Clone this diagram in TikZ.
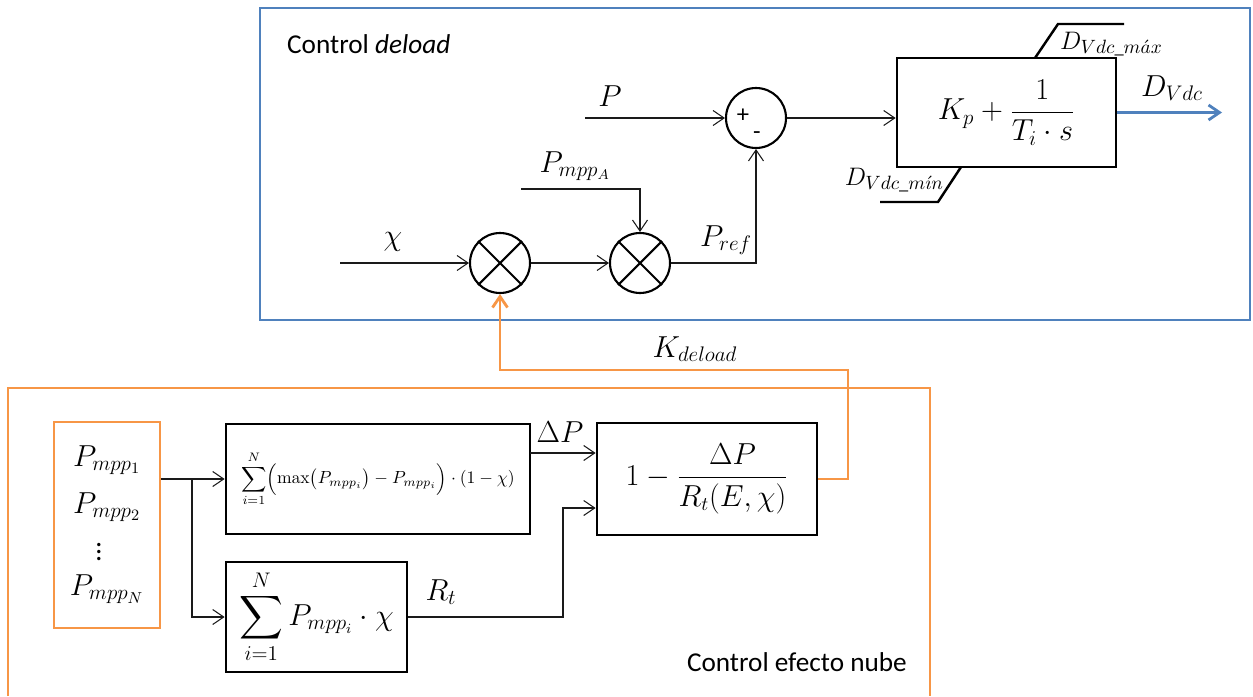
\documentclass[tikz,border=0pt]{standalone}
\usepackage{amsmath}
\usepackage[no-math]{fontspec}
\setmainfont{Carlito}
\usetikzlibrary{arrows.meta,calc}
\definecolor{azul}{HTML}{4F81BD}
\definecolor{naranja}{HTML}{F79646}
\definecolor{negro}{HTML}{1A1A1A}
\tikzset{
  flecha/.style={-{Straight Barb[length=2.2mm,width=3mm]},negro,line width=0.6pt},
  flechac/.style={-{Straight Barb[length=2.2mm,width=3mm]},line width=1.6pt},
  bloque/.style={draw=black,line width=1.6pt,inner sep=2pt,font=\fontsize{16}{18}\selectfont},
  nodo/.style={circle,draw=black,line width=1.2pt,minimum size=1.2cm,inner sep=0pt},
  marco/.style={line width=1.3pt},
  etiq/.style={inner sep=1pt,font=\fontsize{17}{19}\selectfont},
  sat/.style={black,line width=1.4pt},
}
\begin{document}
\begin{tikzpicture}[x=0.02cm,y=-0.02cm]
  \useasboundingbox (0,0) rectangle (1253,696);
  % marcos
  \draw[marco,azul] (260,8) rectangle (1250,320);
  \node[anchor=west,font=\fontsize{15.5}{18}\selectfont] (tdel) at (281,44) {Control \textit{deload}};
  \draw[marco,naranja] (8,696) -- (8,388) -- (930,388) -- (930,696);
  \node[anchor=east,font=\fontsize{15.5}{18}\selectfont] (tnube) at (913,662) {Control efecto nube};

  % control deload
  \node[nodo] (suma) at (756,118) {};
  \node[font=\fontsize{14}{16}\selectfont,inner sep=0pt] (mas) at (743,116) {+};
  \node[font=\fontsize{14}{16}\selectfont,inner sep=0pt] (menos) at (757,136) {-};
  \node[bloque,minimum width=4.38cm,minimum height=2.18cm,font=\fontsize{17}{19}\selectfont] (pi) at (1006.5,112.5) {$\displaystyle K_p+\frac{1}{T_i\cdot s}$};
  \node[nodo] (m1) at (500,263) {};
  \node[nodo] (m2) at (640,263) {};
  \foreach \m in {m1,m2} {
    \draw[line width=1.2pt] (\m.north west) -- (\m.south east);
    \draw[line width=1.2pt] (\m.north east) -- (\m.south west);
  }
  \coordinate (inP) at (585,118);
  \coordinate (inchi) at (340,263);
  \coordinate (inA) at (521,189);
  \coordinate (out) at (1222,113);
  \draw[flecha] (inP) -- (suma);
  \draw[flecha] (suma.east) -- (suma.east -| pi.west);
  \draw[flechac,azul] (pi.east) -- (pi.east -| out);
  \draw[flecha] (inchi) -- (m1);
  \draw[flecha] (m1) -- (m2);
  \draw[flecha] (inA) -| (m2);
  \draw[flecha] (m2) -| (suma);
  \node[etiq] (lP) at (610,96) {$P$};
  \node[etiq] (lchi) at (393,242) {$\chi$};
  \node[etiq] (lA) at (575,166) {$P_{mpp_A}$};
  \node[etiq] (lref) at (726,240) {$P_{ref}$};
  \node[etiq] (lD) at (1172,88) {$D_{Vdc}$};
  % limites
  \draw[sat] (1035,58) -- (1058,24) -- (1124,24);
  \draw[sat] (961,167) -- (938,202) -- (880,202);
  \node[etiq,anchor=west,font=\fontsize{15}{17}\selectfont] (lmax) at (1058,44) {$D_{Vdc\_m\acute{a}x}$};
  \node[etiq,anchor=east,font=\fontsize{15}{17}\selectfont] (lmin) at (946,180) {$D_{Vdc\_m\acute{\imath}n}$};

  % control efecto nube
  \node[draw=naranja,line width=1.6pt,minimum width=2.12cm,minimum height=4.12cm] (pm) at (107,525) {};
  \node[etiq,font=\fontsize{18}{20}\selectfont] (p1) at (107,460) {$P_{mpp_1}$};
  \node[etiq,font=\fontsize{18}{20}\selectfont] (p2) at (107,507) {$P_{mpp_2}$};
  \node[inner sep=0pt,font=\fontsize{16}{18}\selectfont] (pd) at (99,547) {$\vdots$};
  \node[etiq,font=\fontsize{18}{20}\selectfont] (pn) at (107,589) {$P_{mpp_N}$};
  \node[bloque,minimum width=6.08cm,minimum height=2.2cm,font=\fontsize{10}{12}\selectfont] (s1) at (378,479)
        {$\displaystyle\sum_{i=1}^{N}\Bigl(\max\bigl(P_{mpp_i}\bigr)-P_{mpp_i}\Bigr)\cdot(1-\chi)$};
  \node[bloque,minimum width=3.62cm,minimum height=2.2cm,font=\fontsize{17}{19}\selectfont] (s2) at (316.5,617)
        {$\displaystyle\sum_{i=1}^{N}P_{mpp_i}\cdot\chi$};
  \node[bloque,minimum width=4.4cm,minimum height=2.24cm] (div) at (707,479)
        {$\displaystyle 1-\frac{\Delta P}{R_t(E,\chi)}$};
  \coordinate (rama) at (192,479);
  \coordinate (dp) at (530,453);
  \coordinate (rt) at (563,508);
  \coordinate (kd) at (848,370);
  \draw[flecha] (pm.east |- s1) -- (s1);
  \draw[flecha] (rama) |- (s2);
  \draw[flecha] (dp) -- (dp -| div.west);
  \draw[flecha] (s2.east) -| (rt) -- (rt -| div.west);
  \draw[flechac,naranja] (div.east) -| (kd) -| (m1);
  \node[etiq] (ldp) at (560,432) {$\Delta P$};
  \node[etiq] (lrt) at (441,592) {$R_t$};
  \node[etiq] (lk) at (695,349) {$K_{deload}$};
\end{tikzpicture}
\end{document}
